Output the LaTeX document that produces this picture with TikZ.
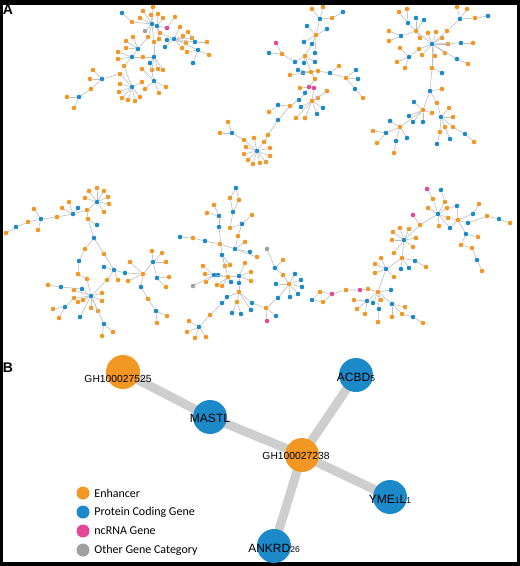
\documentclass[tikz,border=0pt]{standalone}
\usepackage{fontspec}
\setmainfont{Carlito}
\newfontfamily\arialf{Liberation Sans}
\usetikzlibrary{positioning,backgrounds}
\definecolor{or}{RGB}{242,150,36}
\definecolor{bl}{RGB}{28,137,201}
\definecolor{pk}{RGB}{226,72,150}
\definecolor{gy}{RGB}{160,160,160}
\definecolor{lnk}{RGB}{188,188,188}
\definecolor{fatl}{RGB}{206,206,206}
\tikzset{dot/.style={circle,fill=#1,inner sep=0pt,minimum size=4.6pt},
    link/.style={draw=lnk,line width=0.6pt},
    big/.style={circle,fill=#1,inner sep=0pt,minimum size=34pt},
    fat/.style={draw=fatl,line width=9pt},
    gtag/.style={font=\arialf\fontsize{10.3}{12}\selectfont,inner sep=0pt},
    ntag/.style={font=\arialf\fontsize{12}{14}\selectfont,inner sep=0pt},
    legdot/.style={circle,fill=#1,inner sep=0pt,minimum size=13pt},
    legtxt/.style={font=\fontsize{12}{14}\selectfont,inner sep=0pt,anchor=west},
    panel/.style={font=\arialf\bfseries\fontsize{14}{16}\selectfont,inner sep=0pt},
    }
% hub with its leaves, leaves named <hub>-1, <hub>-2, ...
\newcommand\hubstar[4]{%
  \node[dot=#3] (#1) at (#2) {};
  \foreach \lx/\ly/\lc [count=\k] in {#4}{
    \node[dot=\lc] (#1-\k) at (\lx,\ly) {};
    \draw[link] (#1) -- (#1-\k);
  }}
\newcommand\sdig[1]{{\fontsize{8.5}{10}\selectfont #1}}

\begin{document}
\begin{tikzpicture}[x=1pt,y=-1pt]
\useasboundingbox (0,0) rectangle (520,566);
% frame
\fill (0,0) rectangle (520,5);
\fill (0,0) rectangle (3,566);
\fill (517,0) rectangle (520,566);
\fill (0,562) rectangle (520,566);
\node[panel] (pa) at (8,10) {A};
\node[panel] (pb) at (8,368) {B};

%% panel A, top left
\hubstar{a1}{152,24}{bl}{143/11/or,153/7/or,151/15/or,140/18/or,132/22/or,145/31/gy,148/37/or,154/42/or}
\node[dot=bl] (a0) at (122,13) {};
\draw[link] (a0) -- (a1-5);
\hubstar{a2}{157,26}{bl}{158/14/or,163/18/or,167/28/pk,160/33/or,159/39/or}
\draw[link] (a1) -- (a2);
\node[dot=or] (a2x) at (175,17) {};
\draw[link] (a2-3) -- (a2x);
\hubstar{a3}{174,39}{bl}{167/40/bl,165/47/bl,180/27/or,183/36/or,186/43/or,182/48/or,192/38/or}
\draw[link] (a3) -- (a2-4);
\hubstar{a4}{195,42}{bl}{188/32/or,207/42/or}
\draw[link] (a4) -- (a3);
\hubstar{a5}{198,50}{bl}{209/55/or,187/52/or,193/63/bl}
\draw[link] (a5) -- (a3);
\hubstar{a6}{138,49}{bl}{133/37/or,126/41/or,126/48/or}
\draw[link] (a6) -- (a1-7);
\hubstar{a7}{132,57}{bl}{118/52/or,118/59/or,124/66/or,143/57/or}
\draw[link] (a7) -- (a6);
\hubstar{a8}{154,57}{bl}{150/63/bl,152/70/or,158/69/or,163/70/or}
\draw[link] (a8) -- (a1-8);
\draw[link] (a8) -- (a7-4);
\hubstar{a9}{154,81}{bl}{142/69/or,159/93/or,166/87/or,145/89/or}
\draw[link] (a9) -- (a8-1);
\hubstar{a10}{132,87}{bl}{120/84/or,119/92/or,122/98/or,128/100/or,135/101/or,140/97/or,142/82/or,120/74/or}
\draw[link] (a10) -- (a7-3);
\hubstar{a11}{102,79}{bl}{93/70/or,90/79/or,91/89/or}
\draw[link] (a11) -- (a10-8);
\hubstar{a12}{79,97}{bl}{67/97/or,74/108/or}
\draw[link] (a12) -- (a11-3);

%% panel A, top middle
\hubstar{t1}{320,19}{bl}{312/9/or,323/7/or,332/18/or}
\node[dot=bl] (t0) at (343,12) {};
\draw[link] (t0) -- (t1-3);
\hubstar{t3}{316,35}{or}{307/26/bl,327/29/bl,304/42/bl,312/44/bl,315/53/bl}
\draw[link] (t3) -- (t1);
\hubstar{t4}{305,56}{or}{295/62/bl,304/63/bl,315/62/bl}
\draw[link] (t4) -- (t3-4);
\hubstar{t5}{282,54}{or}{276/43/pk,269/53/bl}
\draw[link] (t5) -- (t4-1);
\hubstar{t6}{311,72}{or}{298/70/bl,303/73/bl,290/75/or,318/71/or,315/79/or}
\draw[link] (t6) -- (t4);
\hubstar{t7}{330,73}{bl}{339/66/or}
\draw[link] (t7) -- (t6-4);
\hubstar{t8}{346,78}{or}{356/70/bl,358/79/bl,355/89/bl}
\draw[link] (t8) -- (t7);
\node[dot=or] (t8x) at (363,98) {};
\draw[link] (t8x) -- (t8-3);
\hubstar{t9}{309,87}{pk}{300/88/or,305/93/bl,314/88/pk}
\draw[link] (t9) -- (t6-5);
\hubstar{t10}{312,101}{or}{318/98/or,323/108/bl,317/114/bl,301/107/bl,305/118/or,296/118/or,327/91/or}
\draw[link] (t10) -- (t9-3);
\hubstar{t11}{299,100}{bl}{290/106/or}
\draw[link] (t11) -- (t9-2);
\hubstar{t12}{278,105}{bl}{269/112/or}
\draw[link] (t12) -- (t11-1);
\hubstar{t13}{278,120}{bl}{268/135/or}
\draw[link] (t13) -- (t11-1);
\hubstar{t14}{257,151}{bl}{264/142/or,254/138/or,244/140/or,246/147/or,244/154/or,248/160/or,253/164/or,260/163/or,266/162/or,270/156/or,270/148/or}
\draw[link] (t14-1) -- (t13-1);
\hubstar{t15}{232,133}{bl}{220/133/or,228/122/or}
\draw[link] (t15) -- (t14-3);

%% panel A, top right
\hubstar{r1}{432,44}{bl}{419/49/or,422/55/or,435/56/or,445/53/or,448/44/or,461/43/bl,457/59/bl,436/32/or,442/38/or,428/33/or,432/68/or}
\hubstar{r2}{416,31}{or}{416/18/bl,424/20/bl,420/38/or}
\draw[link] (r2) -- (r1);
\hubstar{r3}{408,23}{bl}{399/12/or,407/9/or}
\draw[link] (r3) -- (r2);
\hubstar{r4}{401,36}{bl}{389/31/or,389/41/or}
\draw[link] (r4) -- (r2);
\hubstar{r5}{409,57}{bl}{400/48/or,397/62/or,405/68/or}
\draw[link] (r5) -- (r1-1);
\hubstar{r6}{460,19}{bl}{457/7/or,467/9/or,475/18/or,447/31/or}
\draw[link] (r6-4) -- (r1);
\node[dot=bl] (r6x) at (488,16) {};
\draw[link] (r6x) -- (r6-3);
\node[dot=or] (r1x) at (473,43) {};
\draw[link] (r1x) -- (r1-6);
\node[dot=or] (r1y) at (468,64) {};
\draw[link] (r1y) -- (r1-7);
\node[dot=bl] (r1z) at (442,73) {};
\draw[link] (r1z) -- (r1-11);
\hubstar{r7}{430,91}{bl}{442/89/or,437/103/or}
\draw[link] (r7) -- (r1-11);
\hubstar{r8}{423,110}{or}{414/102/bl,409/116/bl,413/122/bl,423/122/bl,432/113/or}
\draw[link] (r8) -- (r7);
\hubstar{r9}{441,117}{bl}{449/108/or,453/117/or,445/127/or,453/127/or,440/132/or}
\draw[link] (r9) -- (r7-2);
\node[dot=bl] (r9a) at (437,144) {};
\node[dot=bl] (r9b) at (450,139) {};
\node[dot=bl] (r9c) at (465,134) {};
\node[dot=or] (r9d) at (474,142) {};
\draw[link] (r9a) -- (r9-5);
\draw[link] (r9b) -- (r9-3);
\draw[link] (r9-4) -- (r9c) -- (r9d);
\hubstar{r10}{400,127}{or}{390/121/bl,386/133/bl,396/141/bl,407/138/bl}
\draw[link] (r10) -- (r8);
\node[dot=or] (r10a) at (373,131) {};
\node[dot=or] (r10b) at (377,143) {};
\node[dot=or] (r10c) at (394,153) {};
\draw[link] (r10a) -- (r10-2) -- (r10b);
\draw[link] (r10c) -- (r10-3);

%% panel A, bottom left
\hubstar{u1}{41,219}{bl}{34/209/or,38/230/or,28/222/or,57/217/or}
\node[dot=bl] (u1a) at (16,227) {};
\node[dot=or] (u1b) at (6,233) {};
\draw[link] (u1-3) -- (u1a) -- (u1b);
\hubstar{u2}{73,214}{bl}{62/208/or,69/202/or,78/208/bl,87/210/or}
\draw[link] (u2) -- (u1-4);
\hubstar{u3}{97,202}{bl}{85/198/or,89/191/or,97/188/or,104/191/or,108/197/or,109/204/or,104/212/or}
\draw[link] (u3) -- (u2-4);
\hubstar{u4}{88,219}{or}{97/225/bl}
\draw[link] (u4) -- (u2-4);
\hubstar{u5}{94,238}{bl}{85/249/or,104/254/or}
\draw[link] (u5) -- (u4);
\node[dot=bl] (u5a) at (79,261) {};
\node[dot=or] (u5b) at (78,274) {};
\draw[link] (u5-1) -- (u5a) -- (u5b);
\hubstar{u7}{114,270}{bl}{104/267/bl,107/280/or,118/280/or,125/273/bl}
\draw[link] (u7) -- (u5-2);
\hubstar{u8}{143,274}{or}{130/262/or,128/281/or,141/287/bl}
\draw[link] (u8) -- (u7-4);
\hubstar{u9}{153,262}{bl}{152/251/or,162/253/or,166/262/or}
\draw[link] (u9) -- (u8);
\hubstar{u10}{157,278}{bl}{169/277/or,166/287/or}
\draw[link] (u10) -- (u9);
\hubstar{u11}{156,311}{bl}{148/299/or,167/316/or,157/323/or}
\draw[link] (u11-1) -- (u8-3);
\hubstar{u12}{91,296}{bl}{82/289/bl,87/279/or,74/290/or,74/298/or,78/302/or,83/300/or,102/293/or,102/301/or,91/308/or,98/311/or,104/324/bl,80/317/bl}
\draw[link] (u12-2) -- (u5b);
\draw[link] (u12) -- (u7-2);
\node[dot=bl] (u12a) at (61,287) {};
\node[dot=or] (u12b) at (48,285) {};
\draw[link] (u12-1) -- (u12a) -- (u12b);
\node[dot=bl] (u12c) at (65,307) {};
\node[dot=or] (u12d) at (53,309) {};
\node[dot=or] (u12e) at (59,318) {};
\draw[link] (u12-4) -- (u12c) -- (u12d);
\draw[link] (u12c) -- (u12e);
\node[dot=or] (u12f) at (113,332) {};
\node[dot=or] (u12g) at (102,336) {};
\draw[link] (u12f) -- (u12-11) -- (u12g);

%% panel A, bottom middle
\hubstar{v1}{236,188}{bl}{230/198/or,239/200/or}
\hubstar{v2}{233,212}{bl}{230/228/or}
\draw[link] (v2) -- (v1-1);
\draw[link] (v2) -- (v1-2);
\hubstar{v3}{219,216}{bl}{214/205/or,207/213/or,219/227/bl}
\hubstar{v4}{242,224}{bl}{252/215/or,238/236/or}
\draw[link] (v4) -- (v2-1);
\hubstar{v5}{235,249}{bl}{245/242/or,250/252/bl,257/257/or}
\draw[link] (v5) -- (v4-2);
\node[dot=bl] (v6a) at (180,237) {};
\node[dot=or] (v6b) at (193,238) {};
\node[dot=bl] (v6c) at (205,241) {};
\node[dot=or] (v6d) at (220,244) {};
\draw[link] (v6a) -- (v6b) -- (v6c) -- (v6d) -- (v5);
\hubstar{v7}{222,255}{bl}{225/266/or,230/265/or}
\draw[link] (v7) -- (v3-3);
\hubstar{v8}{228,277}{or}{218/275/bl,231/282/bl,217/285/or,222/286/or}
\draw[link] (v8) -- (v7);
\hubstar{v9}{214,275}{bl}{203/266/or,205/274/or,206/282/or,193/286/gy}
\draw[link] (v9) -- (v8);
\hubstar{v10}{239,276}{bl}{245/263/or,251/272/or,251/281/or,239/283/bl}
\draw[link] (v10) -- (v8);
\hubstar{v11}{239,292}{or}{227/297/bl,237/302/or,251/310/bl,252/303/bl}
\draw[link] (v11) -- (v10-4);
\node[dot=bl] (v11a) at (222,303) {};
\node[dot=or] (v11b) at (210,315) {};
\draw[link] (v11-1) -- (v11a) -- (v11b);
\node[dot=bl] (v11c) at (232,313) {};
\node[dot=bl] (v11d) at (241,314) {};
\draw[link] (v11c) -- (v11-2) -- (v11d);
\hubstar{v12}{199,327}{bl}{189/321/or,187/332/or,195/338/or,206/337/or}
\draw[link] (v12) -- (v11b);
\hubstar{v13}{266,308}{or}{276/316/bl,267/321/pk}
\draw[link] (v13) -- (v11-4);
\hubstar{v14}{289,284}{or}{276/284/bl,295/274/bl,301/280/bl,302/287/bl,298/294/bl,290/297/bl,278/298/bl,283/275/or}
\draw[link] (v14-7) -- (v13);
\hubstar{v15}{275,268}{bl}{283/260/or,267/249/gy}
\draw[link] (v15) -- (v14-8);

%% panel A, bottom right
\hubstar{w1}{378,292}{or}{368/289/or,391/290/bl,367/301/bl,373/303/bl,381/300/or,379/309/bl}
\node[dot=pk] (w1a) at (360,290) {};
\node[dot=or] (w1b) at (346,290) {};
\node[dot=pk] (w1c) at (332,294) {};
\node[dot=or] (w1d) at (320,292) {};
\node[dot=or] (w1e) at (323,302) {};
\node[dot=bl] (w1f) at (312,300) {};
\draw[link] (w1-1) -- (w1a) -- (w1b) -- (w1c) -- (w1d) -- (w1f) -- (w1e) -- (w1c);
\node[dot=or] (w1g) at (354,300) {};
\node[dot=or] (w1h) at (357,309) {};
\node[dot=or] (w1i) at (365,314) {};
\node[dot=or] (w1j) at (378,322) {};
\draw[link] (w1g) -- (w1-3) -- (w1h);
\draw[link] (w1-3) -- (w1i);
\draw[link] (w1-6) -- (w1j);
\hubstar{w3}{392,304}{bl}{405/307/or,392/317/or,402/314/or}
\draw[link] (w3) -- (w1);
\node[dot=bl] (w3a) at (413,317) {};
\node[dot=or] (w3b) at (423,323) {};
\draw[link] (w3-3) -- (w3a) -- (w3b);
\hubstar{w4}{386,269}{bl}{375/264/or,375/273/or,381/258/or,394/277/or}
\draw[link] (w4) -- (w1);
\hubstar{w5}{402,258}{or}{401/269/bl,409/268/bl,415/261/bl}
\draw[link] (w5) -- (w4);
\node[dot=or] (w5a) at (426,267) {};
\draw[link] (w5-3) -- (w5a);
\hubstar{w6}{404,240}{bl}{393/232/or,400/228/or,409/229/or,416/238/or,413/247/or,392/240/or,394/253/or}
\draw[link] (w6) -- (w5);
\hubstar{w7}{438,214}{bl}{428/208/or,433/199/or,445/202/or,447/208/or,439/226/or,448/218/or,450/228/bl,420/225/or}
\draw[link] (w7-8) -- (w6);
\node[dot=pk] (w7a) at (413,215) {};
\node[dot=pk] (w7b) at (427,189) {};
\node[dot=bl] (w7c) at (441,190) {};
\node[dot=bl] (w7d) at (457,206) {};
\draw[link] (w7a) -- (w7-8);
\draw[link] (w7b) -- (w7-2);
\draw[link] (w7c) -- (w7-3);
\draw[link] (w7d) -- (w7-4);
\hubstar{w8}{458,220}{or}{468/223/bl,473/214/bl,466/234/bl}
\draw[link] (w8) -- (w7-6);
\draw[link] (w8) -- (w7-7);
\draw[link] (w8) -- (w7d);
\node[dot=or] (w8a) at (479,204) {};
\node[dot=or] (w8b) at (487,216) {};
\node[dot=bl] (w8c) at (499,219) {};
\node[dot=or] (w8d) at (510,223) {};
\draw[link] (w8a) -- (w8-2);
\draw[link] (w8-1) -- (w8b) -- (w8c) -- (w8d);
\node[dot=or] (w8e) at (478,237) {};
\node[dot=or] (w8f) at (461,245) {};
\node[dot=or] (w8g) at (472,248) {};
\node[dot=bl] (w8h) at (477,260) {};
\node[dot=or] (w8i) at (482,271) {};
\draw[link] (w8e) -- (w8-3) -- (w8f) -- (w8g) -- (w8h) -- (w8i);

%% panel B
\node[big=or] (gh525) at (123,372) {};
\node[big=bl] (mastl) at (210,417) {};
\node[big=or] (gh238) at (302,455) {};
\node[big=bl] (acbd) at (356,375) {};
\node[big=bl] (yme) at (390,497) {};
\node[big=bl] (ankrd) at (274,546) {};
\begin{scope}[on background layer]
\draw[fat] (gh525.center) -- (mastl.center) -- (gh238.center);
\draw[fat] (gh238.center) -- (acbd.center);
\draw[fat] (gh238.center) -- (yme.center);
\draw[fat] (gh238.center) -- (ankrd.center);
\end{scope}
\node[gtag] (gh525-t) at (118,379) {GH100027525};
\node[gtag] (gh238-t) at (296,456) {GH100027238};
\node[ntag] (mastl-t) at (210,418) {MASTL};
\node[ntag] (acbd-t) at (356,377) {ACBD\sdig{5}};
\node[ntag] (yme-t) at (390,499) {YME\sdig{1}L\sdig{1}};
\node[ntag] (ankrd-t) at (274,548) {ANKRD\sdig{26}};

% legend
\node[legdot=or] (l1) at (83,493) {};
\node[legdot=bl] (l2) at (83,512) {};
\node[legdot=pk] (l3) at (83,531) {};
\node[legdot=gy] (l4) at (83,550) {};
\node[legtxt,right=4.5pt of l1] (l1-t) {Enhancer};
\node[legtxt,right=4.5pt of l2] (l2-t) {Protein Coding Gene};
\node[legtxt,right=4.5pt of l3] (l3-t) {ncRNA Gene};
\node[legtxt,right=4.5pt of l4] (l4-t) {Other Gene Category};
\end{tikzpicture}
\end{document}
